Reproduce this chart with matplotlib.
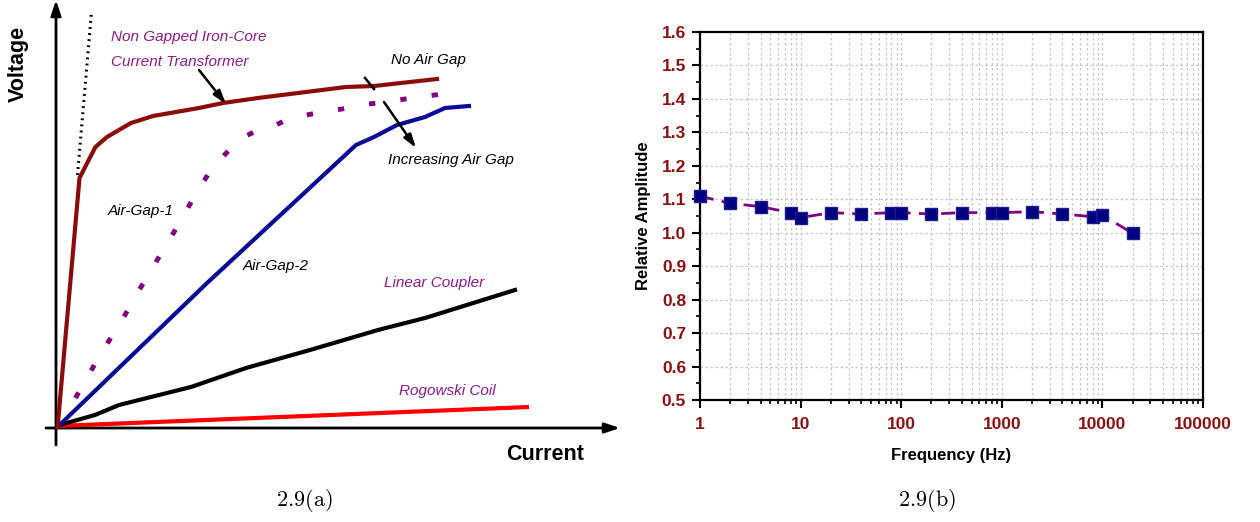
import numpy as np
import matplotlib.pyplot as plt
from matplotlib.ticker import LogLocator, FixedLocator, MultipleLocator, NullFormatter

plt.rcParams['mathtext.fontset'] = 'cm'

# --- Panel (a) : courbes V-I schematiques (unites arbitraires) ---
no_gap_i = [1.6, 23.5, 39.4, 51, 75, 97, 143, 167, 202, 290, 318, 381]
no_gap_v = [1, 250, 281, 291, 305, 312, 320, 325, 330, 341, 342, 349]

ideal_i = [21.5, 35.4]
ideal_v = [253, 415]

gap1_i = [19.5, 35.4, 49, 65, 79, 94, 109, 124, 138, 153, 163, 174, 186,
          200, 218, 234, 250, 268, 292, 312, 332, 349, 371, 395]
gap1_v = [30, 58, 81, 106, 131, 156, 181, 206, 231, 255, 267, 279, 290,
          297, 302, 310, 313, 316, 320, 324, 326, 329, 332, 335]

gap2_i = [3.6, 150, 300, 318, 341, 369, 389, 413]
gap2_v = [3, 144, 283, 291, 303, 311, 320, 322]

coupler_i = [3.6, 39, 63, 135, 190, 254, 322, 369, 459]
coupler_v = [3, 13, 23, 41, 60, 78, 98, 110, 138]

rogowski_i = [1.6, 473]
rogowski_v = [2, 21]

# --- Panel (b) : reponse en frequence ---
freq = [1, 2, 4, 8, 10, 20, 40, 80, 100, 200, 400, 800, 1000, 2000, 4000, 8000, 10000, 20000]
amp = [1.109, 1.088, 1.078, 1.060, 1.045, 1.060, 1.056, 1.060, 1.060, 1.056,
       1.060, 1.060, 1.060, 1.063, 1.056, 1.048, 1.053, 0.998]
yticks = [0.5, 0.6, 0.7, 0.8, 0.9, 1.0, 1.1, 1.2, 1.3, 1.4, 1.5, 1.6]
xticks = [1, 10, 100, 1000, 10000, 100000]
xlabels = ["1", "10", "100", "1000", "10000", "100000"]

W, H = 1260, 522
fig = plt.figure(figsize=(W / 100, H / 100), dpi=100)

# ----- (a) -----
ax1 = fig.add_axes([0, 0, 630 / W, 1])
ax1.set_xlim(-56, 574)
ax1.set_ylim(-94, 428)
ax1.axis('off')

narrow = ['Liberation Sans Narrow', 'Liberation Sans', 'DejaVu Sans']
sans = ['Liberation Sans', 'DejaVu Sans']
purple_txt = '#8b1a8b'

ax1.annotate('', xy=(0, 428), xytext=(0, -17),
             arrowprops=dict(arrowstyle='-|>,head_length=0.9,head_width=0.3', lw=2, color='black',
                             shrinkA=0, shrinkB=0))
ax1.annotate('', xy=(564, 0), xytext=(-10, 0),
             arrowprops=dict(arrowstyle='-|>,head_length=0.9,head_width=0.3', lw=2, color='black',
                             shrinkA=0, shrinkB=0))

ax1.plot(ideal_i, ideal_v, color='black', lw=2.2, linestyle=(0, (0.6, 1.4)), zorder=2)
ax1.plot(rogowski_i, rogowski_v, color='#ff0000', lw=3, zorder=3, solid_capstyle='butt')
ax1.plot(coupler_i, coupler_v, color='black', lw=3, zorder=3)
ax1.plot(gap2_i, gap2_v, color='#0a0a96', lw=3, zorder=3)
ax1.plot(gap1_i, gap1_v, color='#800080', lw=3.5, linestyle=(0, (1.3, 5.2)), zorder=3)
ax1.plot(no_gap_i, no_gap_v, color='#8b0a0a', lw=3, zorder=4)

# fleches
ax1.annotate('', xy=(170, 324), xytext=(143, 358),
             arrowprops=dict(arrowstyle='-|>,head_length=0.8,head_width=0.25', lw=1.8, color='black',
                             shrinkA=0, shrinkB=0), zorder=5)
ax1.plot([309, 318], [350, 339], color='black', lw=1.8, zorder=5)
ax1.annotate('', xy=(360, 280), xytext=(328, 326),
             arrowprops=dict(arrowstyle='-|>,head_length=0.8,head_width=0.25', lw=1.8, color='black',
                             shrinkA=0, shrinkB=0), zorder=5)

txt = dict(fontsize=11, style='italic', family=narrow, va='center')
ax1.text(55, 391, 'Non Gapped Iron-Core', color=purple_txt, **txt)
ax1.text(55, 366, 'Current Transformer', color=purple_txt, **txt)
ax1.text(335, 368, 'No Air Gap', color='black', **txt)
ax1.text(332, 268, 'Increasing Air Gap', color='black', **txt)
ax1.text(52, 217, 'Air-Gap-1', color='black', **txt)
ax1.text(187, 162, 'Air-Gap-2', color='black', **txt)
ax1.text(328, 145, 'Linear Coupler', color=purple_txt, **txt)
ax1.text(343, 37, 'Rogowski Coil', color=purple_txt, **txt)

ax1.text(-38, 364, 'Voltage', rotation=90, fontsize=15.5, fontweight='bold', family=sans,
         ha='center', va='center')
ax1.text(489, -27, 'Current', fontsize=15.5, fontweight='bold', family=sans,
         ha='center', va='center')

# ----- (b) -----
left, right, top, bottom = 700, 1203, 32, 400
ax2 = fig.add_axes([left / W, 1 - bottom / H, (right - left) / W, (bottom - top) / H])
ax2.plot(freq, amp, color='#800080', lw=2, linestyle=(0, (5, 3)), zorder=3, clip_on=False)
ax2.plot(freq, amp, linestyle='none', marker='s', ms=8.5, color='#000080',
         markeredgecolor='#1c1c8c', zorder=4, clip_on=False)
ax2.set_xscale('log')
ax2.set_xlim(1, 100000)
ax2.set_ylim(0.5, 1.6)

ax2.xaxis.set_major_locator(FixedLocator(xticks))
ax2.set_xticklabels(xlabels)
ax2.xaxis.set_minor_locator(LogLocator(base=10, subs=np.arange(2, 10)))
ax2.xaxis.set_minor_formatter(NullFormatter())
ax2.set_yticks(yticks)
ax2.set_yticklabels([f"{v:.1f}" for v in yticks])
ax2.yaxis.set_minor_locator(MultipleLocator(0.05))

dark_red = '#8b1010'
for lab in ax2.get_xticklabels() + ax2.get_yticklabels():
    lab.set_family(sans)
    lab.set_fontweight('bold')
    lab.set_fontsize(12.5)
    lab.set_color(dark_red)

ax2.tick_params(axis='both', which='major', direction='out', length=6, width=1.5, pad=4)
ax2.tick_params(axis='both', which='minor', direction='out', length=3, width=1.2)
ax2.tick_params(axis='x', which='major', pad=6)
for s in ax2.spines.values():
    s.set_linewidth(1.6)

ax2.grid(True, which='major', axis='both', color='#c8c8c8', linestyle=(0, (2, 2)), lw=0.9)
ax2.grid(True, which='minor', axis='x', color='#c8c8c8', linestyle=(0, (2, 2)), lw=0.9)
ax2.set_axisbelow(True)

ax2.set_xlabel('Frequency (Hz)', fontsize=12, fontweight='bold', family=sans, labelpad=12)
ax2.set_ylabel('Relative Amplitude', fontsize=12, fontweight='bold', family=sans, labelpad=8)

# legendes des sous-figures
fig.text(304 / W, 1 - 500 / H, r'$\mathrm{2.9(a)}$', fontsize=16, ha='center', va='center')
fig.text(927 / W, 1 - 500 / H, r'$\mathrm{2.9(b)}$', fontsize=16, ha='center', va='center')

fig.savefig('out.png', dpi=100)
